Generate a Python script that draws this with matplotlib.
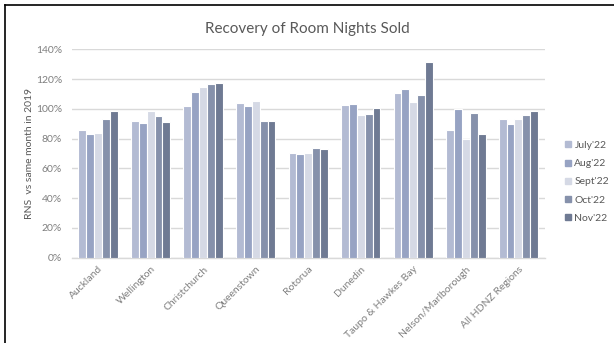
import numpy as np
import matplotlib
matplotlib.use("Agg")
import matplotlib.pyplot as plt
from matplotlib.lines import Line2D

regions = ["Auckland", "Wellington", "Christchurch", "Queenstown", "Rotorua",
           "Dunedin", "Taupo & Hawkes Bay", "Nelson/Marlborough", "All HDNZ Regions"]
months = ["July'22", "Aug'22", "Sept'22", "Oct'22", "Nov'22"]

july = [85.8, 91.6, 101.7, 103.9, 70.5, 102.6, 110.8, 85.8, 93.4]
aug = [82.8, 90.5, 111.5, 101.7, 69.4, 103.0, 113.1, 99.6, 89.6]
sept = [84.0, 98.5, 114.6, 105.5, 70.1, 95.8, 104.8, 79.7, 93.4]
oct_ = [93.1, 95.2, 116.7, 91.6, 73.9, 96.5, 109.3, 97.4, 95.8]
nov = [98.5, 90.9, 117.1, 92.0, 73.2, 100.3, 131.4, 83.1, 98.5]

colors = ["#b3bbd3", "#97a3c3", "#d5d9e5", "#8691ab", "#6f7a93"]

plt.rcParams['font.family'] = ['Lato', 'DejaVu Sans']
text_col = "#595959"
tick_col = "#7f7f7f"

fig = plt.figure(figsize=(6.14, 3.43), dpi=100)
ax = fig.add_axes([0.117, 0.2487, 0.770, 0.6075])

x = np.arange(len(regions))
step = 0.15
series = [july, aug, sept, oct_, nov]
for i, (vals, col) in enumerate(zip(series, colors)):
    ax.bar(x + (i - 2) * step, np.array(vals) / 100, width=step, color=col,
           edgecolor="white", linewidth=0.8, label=months[i], zorder=3)

ax.set_xlim(-0.5, len(regions) - 0.5)
ax.set_ylim(0, 1.4)
ax.set_yticks(np.arange(0, 1.41, 0.2))
ax.set_yticklabels([f"{int(round(v * 100))}%" for v in np.arange(0, 1.41, 0.2)])
ax.yaxis.grid(True, color="#d9d9d9", linewidth=1, zorder=0)
for s in ["top", "right", "left"]:
    ax.spines[s].set_visible(False)
ax.spines["bottom"].set_color("#d9d9d9")
ax.spines["bottom"].set_linewidth(1)
ax.tick_params(axis="both", length=0, labelsize=7.5, colors=tick_col, pad=7)
ax.set_xticks(x)
ax.set_xticklabels(regions, rotation=45, ha="right", rotation_mode="anchor")
ax.tick_params(axis="x", pad=5)

ax.set_ylabel("RNS  vs same month in 2019", fontsize=7.5, color=text_col, labelpad=1)
fig.text(0.5, 0.915, "Recovery of Room Nights Sold", ha="center", va="center",
         fontsize=11, color=text_col)

handles = [Line2D([0], [0], marker="s", linestyle="none", markersize=5,
                  markerfacecolor=c, markeredgecolor=c) for c in colors]
fig.legend(handles, months, loc="center left", bbox_to_anchor=(0.905, 0.47),
           frameon=False, fontsize=7.5, labelcolor=text_col, handlelength=0.6,
           handletextpad=0.3, labelspacing=0.85)

# outer frame (cropped on right and bottom)
fig.add_artist(Line2D([5 / 614, 1], [1 - 4.5 / 343, 1 - 4.5 / 343], color="black", linewidth=1.2))
fig.add_artist(Line2D([5 / 614, 5 / 614], [0, 1 - 4.5 / 343], color="black", linewidth=1.2))

fig.savefig("out.png", dpi=100)
